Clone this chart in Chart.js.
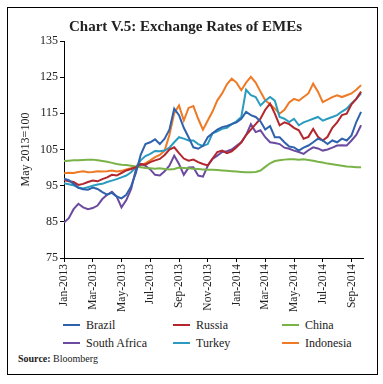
<!DOCTYPE html>
<html>
<head>
<meta charset="utf-8">
<script src="https://cdn.jsdelivr.net/npm/chart.js@4.4.0/dist/chart.umd.min.js"></script>
<style>
  html, body { margin: 0; padding: 0; background: #fff; }
  body { width: 383px; height: 384px; position: relative; overflow: hidden;
         font-family: 'Liberation Serif', 'DejaVu Serif', serif; color: #222; }
  #frame { position: absolute; left: 7px; top: 7px; width: 371px; height: 368px;
           border: 1px solid #000; box-sizing: border-box; }
  #chartBox { position: absolute; left: 0; top: 0; width: 383px; height: 318px; }
  .leg { position: absolute; font-size: 12px; line-height: 14px; white-space: nowrap; }
  .leg i { position: absolute; left: -23px; top: 6px; width: 17px; height: 2px; }
  #source { position: absolute; left: 18px; top: 353px; font-size: 10px; }
</style>
</head>
<body>
<div id="frame"></div>
<div id="chartBox"><canvas id="chart" width="383" height="318"></canvas></div>
<div id="legend"></div>
<div id="source"><b>Source:</b> Bloomberg</div>

<script>
// --- data (index, May 2013 = 100), three readings per month from Jan-2013 ---
const tickLabels = ['Jan-2013', 'Mar-2013', 'May-2013', 'Jul-2013', 'Sep-2013', 'Nov-2013',
                    'Jan-2014', 'Mar-2014', 'May-2014', 'Jul-2014', 'Sep-2014'];
const seriesNames = ['Brazil', 'Russia', 'China', 'South Africa', 'Turkey', 'Indonesia'];
const seriesColors = ['#2f62ad', '#b2262c', '#79b348', '#6b4b9f', '#2b9bbf', '#ef7a25'];

const brazil = [
  96.9, 96.5, 95.5,  94.4, 94.0, 93.9,  94.5, 94.1, 93.2,  92.5, 93.0, 92.0,
  91.5, 92.5, 94.8,  98.5, 103.5, 106.5,  107.0, 107.8, 106.5,  108.0, 110.5, 116.3,
  114.5, 111.0, 108.4,  105.6, 105.2, 106.0,  108.4, 109.5, 110.5,  111.2, 111.5, 112.0,
  112.5, 113.5, 115.4,  114.5, 114.0, 112.8,  110.5, 111.5, 108.4,  108.4, 107.0, 105.8,
  105.6, 104.7, 105.5,  106.1, 107.0, 108.0,  107.5, 106.5, 107.5,  107.0, 108.0, 107.5,
  108.9, 112.6, 115.4
];
const russia = [
  96.6, 96.2, 96.0,  95.2, 95.5, 96.0,  96.4, 96.2, 96.8,  97.3, 98.0, 97.8,
  98.5, 99.2, 99.6,  100.1, 101.0, 100.8,  101.5, 102.0, 102.4,  103.5, 105.0, 105.6,
  104.0, 102.5, 101.9,  102.2, 101.5, 101.0,  100.6, 102.5, 104.3,  104.7, 104.0, 104.5,
  105.6, 107.0, 109.0,  110.5, 112.0, 113.5,  116.0, 117.7, 114.9,  111.7, 112.5, 112.0,
  111.0, 110.3, 108.0,  108.5, 110.7, 108.5,  107.5, 108.5, 111.0,  112.5, 114.5, 114.9,
  117.5, 119.0, 121.0
];
const china = [
  101.8, 101.9, 102.0,  102.0, 102.1, 102.2,  102.2, 102.0, 101.8,  101.6, 101.3, 101.0,
  100.8, 100.7, 100.5,  100.3, 100.1, 99.9,  99.8, 99.7, 99.8,  99.6, 99.5, 99.6,
  100.0, 99.9, 99.8,  99.7, 99.6, 99.5,  99.4, 99.4, 99.3,  99.2, 99.1, 99.0,
  98.9, 98.8, 98.7,  98.7, 98.8, 99.2,  100.2, 101.2, 101.8,  102.0, 102.2, 102.3,
  102.3, 102.2, 102.3,  102.1, 101.9, 101.6,  101.4, 101.1, 100.9,  100.7, 100.5, 100.3,
  100.2, 100.1, 100.1
];
const southAfrica = [
  84.8, 86.0, 88.5,  90.0, 89.0, 88.5,  88.8, 89.5, 91.3,  92.5, 93.3, 92.0,
  89.0, 91.0, 94.0,  99.5, 101.0, 100.5,  99.5, 98.0, 97.8,  99.0, 100.5, 103.3,
  101.0, 98.0, 100.0,  100.1, 97.8, 97.5,  100.5, 102.4, 103.3,  104.3, 104.5, 105.0,
  106.0, 107.0, 109.0,  112.0, 109.8, 110.3,  108.4, 107.0, 106.8,  106.5, 105.5, 105.2,
  104.7, 104.3, 103.8,  104.8, 105.6, 105.3,  104.7, 105.0, 105.5,  106.1, 106.2, 106.1,
  107.5, 109.0, 111.7
];
const turkey = [
  95.7, 95.4, 95.1,  94.5, 94.2, 94.6,  95.0, 95.3, 95.5,  96.0, 96.4, 96.8,
  97.3, 97.8, 98.7,  100.1, 102.0, 103.2,  103.8, 104.6, 104.5,  104.7, 105.5, 107.0,
  108.4, 108.0, 107.5,  107.5, 106.5, 106.0,  106.5, 109.5, 110.0,  110.7, 111.0, 112.0,
  112.8, 114.0, 121.5,  120.0, 119.5, 117.2,  118.5, 119.5, 118.5,  114.0, 113.5, 112.6,
  113.5, 111.7, 112.5,  113.0, 113.5, 114.0,  113.0, 113.5, 114.0,  114.5, 115.5, 116.3,
  117.7, 119.0, 120.5
];
const indonesia = [
  98.4, 98.6, 98.5,  98.8, 99.0, 98.7,  98.8, 99.0, 98.9,  99.0, 99.2, 98.9,
  99.1, 99.5, 99.8,  100.1, 100.6, 101.2,  102.0, 102.9, 103.5,  104.7, 109.0, 115.0,
  117.2, 113.0, 116.5,  117.0, 113.5, 110.5,  113.0, 115.5, 118.6,  120.5, 123.0, 124.6,
  123.5, 121.4, 123.5,  125.1, 123.5, 121.0,  118.6, 117.5, 116.3,  114.9, 116.0, 118.0,
  119.0, 118.5, 119.5,  120.5, 123.2, 121.0,  118.1, 118.8, 119.5,  120.0, 119.5, 120.0,
  120.5, 121.5, 122.8
];

const seriesValues = [brazil, russia, china, southAfrica, turkey, indonesia];
const FONT = "'Liberation Serif', 'DejaVu Serif', serif";

// x position in months since Jan-2013 (three readings per month)
function toPoints(values) {
  return values.map((v, i) => ({ x: i / 3, y: v }));
}

const datasets = seriesNames.map((name, k) => ({
  label: name,
  data: toPoints(seriesValues[k]),
  borderColor: seriesColors[k],
  backgroundColor: seriesColors[k],
  borderWidth: 2,
  pointRadius: 0,
  tension: 0,
  fill: false
}));

new Chart(document.getElementById('chart').getContext('2d'), {
  type: 'line',
  data: { datasets: datasets },
  options: {
    responsive: false,
    animation: false,
    layout: { padding: { left: 8, right: 20, top: 0, bottom: 0 } },
    plugins: {
      legend: { display: false },
      tooltip: { enabled: false },
      title: {
        display: true,
        text: 'Chart V.5: Exchange Rates of EMEs',
        color: '#222',
        font: { family: FONT, size: 15, weight: 'bold' },
        padding: { top: 18, bottom: 5 }
      }
    },
    scales: {
      x: {
        type: 'linear',
        min: 0,
        max: 20.8,
        afterFit: (scale) => { scale.height = 60; },
        border: { display: true, color: '#000', width: 1 },
        grid: { display: true, drawOnChartArea: false, drawTicks: true, tickLength: 4, color: '#000' },
        ticks: {
          stepSize: 2,
          includeBounds: false,
          autoSkip: false,
          minRotation: 90,
          maxRotation: 90,
          padding: 2,
          color: '#222',
          font: { family: FONT, size: 11.5 },
          callback: (value) => tickLabels[Math.round(value / 2)]
        }
      },
      y: {
        min: 75,
        max: 135,
        afterFit: (scale) => { scale.width = 56; },
        border: { display: true, color: '#000', width: 1 },
        grid: { display: true, drawOnChartArea: false, drawTicks: true, tickLength: 4, color: '#000' },
        ticks: {
          stepSize: 10,
          padding: 2,
          color: '#222',
          font: { family: FONT, size: 12 }
        },
        title: {
          display: true,
          text: 'May 2013=100',
          color: '#222',
          font: { family: FONT, size: 12 },
          padding: { top: 11, bottom: 0 }
        }
      }
    }
  }
});

// --- legend laid out as 3 columns x 2 rows, like the original ---
const legendCols = [86, 196, 305];
const legendRows = [318, 336];
const legendEl = document.getElementById('legend');
seriesNames.forEach((name, k) => {
  const item = document.createElement('div');
  item.className = 'leg';
  item.style.left = legendCols[k % 3] + 'px';
  item.style.top = legendRows[Math.floor(k / 3)] + 'px';
  item.innerHTML = '<i style="background:' + seriesColors[k] + '"></i>' + name;
  legendEl.appendChild(item);
});
</script>
</body>
</html>
